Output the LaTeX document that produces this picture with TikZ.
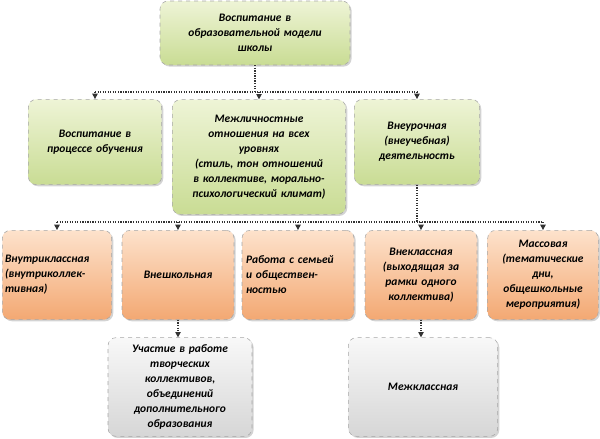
\documentclass[tikz,border=0pt]{standalone}
\usepackage{fontspec}
\setmainfont{Carlito}
\usetikzlibrary{arrows.meta,shadows}
\definecolor{gA}{HTML}{EEF4D6}\definecolor{gB}{HTML}{C9DC94}
\definecolor{oA}{HTML}{FDE2CC}\definecolor{oB}{HTML}{F3A872}
\definecolor{sA}{HTML}{F8F8F8}\definecolor{sB}{HTML}{D6D6D6}
\tikzset{
 base/.style={rounded corners=6pt,draw=gray!70,dashed,thin,align=center,
   font=\fontsize{8.6}{11.2}\selectfont\bfseries\itshape,inner sep=2pt,
   drop shadow={shadow xshift=1.2pt,shadow yshift=-1.2pt,opacity=0.35}},
 gbox/.style={base,top color=gA,bottom color=gB},
 obox/.style={base,top color=oA,bottom color=oB},
 sbox/.style={base,top color=sA,bottom color=sB},
 con/.style={densely dotted,line width=0.9pt,black!80},
 arr/.style={con,-{Triangle[width=4pt,length=4pt]}}
}
\begin{document}
\begin{tikzpicture}[x=0.75pt,y=-0.75pt]
\useasboundingbox (0,0) rectangle (600,439);
\newcommand\bx[6]{\node[#1,minimum width=#4*0.75pt,minimum height=#5*0.75pt,text width=#4*0.75pt-6pt] (#6) at (#2,#3) {#6text};}
\node[gbox,minimum width=142.5pt,minimum height=48pt,text width=135pt] (top) at (255,33) {Воспитание в\\образовательной модели\\школы};
\node[gbox,minimum width=100pt,minimum height=64pt,text width=94pt] (l1) at (95,142) {Воспитание в\\процессе обучения};
\node[gbox,minimum width=130pt,minimum height=86pt,text width=126pt] (l2) at (259,157) {Межличностные\\отношения на всех\\уровнях\\(стиль, тон отношений в коллективе, морально-психологический климат)};
\node[gbox,minimum width=94pt,minimum height=64pt,text width=88pt] (l3) at (417,142) {Внеурочная\\(внеучебная)\\деятельность};
\node[obox,minimum width=82pt,minimum height=67pt,text width=78pt,align=left] (o1) at (57,275) {Внутриклассная\\(внутриколлек-\\тивная)\\[12pt]};
\node[obox,minimum width=84pt,minimum height=67pt,text width=78pt] (o2) at (178,275) {Внешкольная\\[24pt]};
\node[obox,minimum width=84pt,minimum height=67pt,text width=78pt,align=left] (o3) at (298,275) {Работа с семьей\\и обществен-\\ностью\\[12pt]};
\node[obox,minimum width=84pt,minimum height=67pt,text width=78pt] (o4) at (421,275) {Внеклассная\\(выходящая за\\рамки одного\\коллектива)};
\node[obox,minimum width=83pt,minimum height=67pt,text width=78pt] (o5) at (543,275) {Массовая\\(тематические\\дни,\\общешкольные\\мероприятия)};
\node[sbox,minimum width=108pt,minimum height=74pt,text width=100pt] (s1) at (180,387) {Участие в работе\\творческих\\коллективов,\\объединений\\дополнительного\\образования};
\node[sbox,minimum width=112pt,minimum height=74pt,text width=104pt] (s2) at (423,387) {Межклассная};
\coordinate (h1) at (0,92); \coordinate (h2) at (0,222);
\draw[con] (top.south) -- (top.south|-h1);
\draw[con] (l1.north|-h1) -- (l3.north|-h1);
\foreach \n in {l1,l2,l3}{\draw[arr] (\n.north|-h1) -- (\n.north);}
\draw[con] (l3.south) -- (l3.south|-h2);
\draw[con] (o1.north|-h2) -- (o5.north|-h2);
\foreach \n in {o1,o2,o3,o4,o5}{\draw[arr] (\n.north|-h2) -- (\n.north);}
\draw[arr] (o2.south) -- (o2.south|-s1.north);
\draw[arr] (o4.south) -- (o4.south|-s2.north);
\end{tikzpicture}
\end{document}
